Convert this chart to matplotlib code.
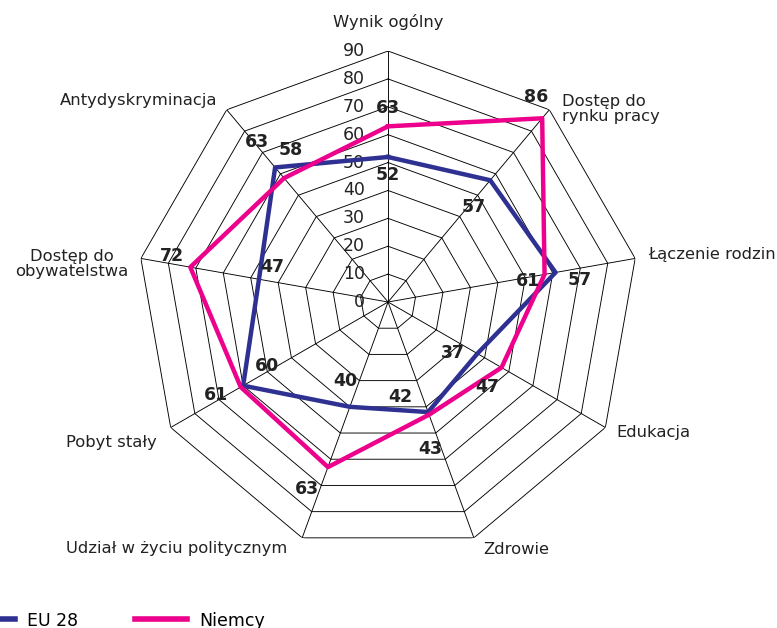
import numpy as np
import matplotlib
matplotlib.use("Agg")
import matplotlib.pyplot as plt
from matplotlib.lines import Line2D

categories = ["Wynik ogólny", "Dostęp do\nrynku pracy", "Łączenie rodzin", "Edukacja",
              "Zdrowie", "Udział w życiu politycznym", "Pobyt stały",
              "Dostęp do\nobywatelstwa", "Antydyskryminacja"]
eu28 = [52, 57, 61, 37, 42, 40, 60, 47, 63]
niemcy = [63, 86, 57, 47, 43, 63, 61, 72, 58]
ring_values = [0, 10, 20, 30, 40, 50, 60, 70, 80, 90]

# label offsets in pixels (dx, dy) for each value label
eu_offsets = [(0, -18), (-17, -27), (-28, -9), (-25, 1), (-28, 15),
              (-5, 26), (24, 20), (13, 12), (-18, 25)]
de_offsets = [(0, 18), (-6, 21), (35, -6), (-14, -19), (1, -34),
              (-21, -22), (-25, -8), (-18, 11), (7, 28)]

blue = "#2e3192"
pink = "#ec008c"
plt.rcParams['font.family'] = ['DejaVu Sans']

n = len(categories)
theta = np.linspace(0, 2 * np.pi, n, endpoint=False)

fig = plt.figure(figsize=(7.77, 6.28), dpi=100)
ax = fig.add_axes([0.1764, 0.1194, 0.646, 0.7994], projection='polar')
ax.set_theta_offset(np.pi / 2)
ax.set_theta_direction(-1)
ax.set_ylim(0, 90)
ax.grid(False)
ax.spines['polar'].set_visible(False)
ax.set_xticks([])
ax.set_yticks([])
ax.patch.set_alpha(0)

# polygon grid and spokes
closed = np.append(theta, theta[0])
for r in ring_values[1:]:
    ax.plot(closed, [r] * (n + 1), color='black', lw=0.65, zorder=1)
for t in theta:
    ax.plot([t, t], [0, 90], color='black', lw=0.65, zorder=1)

# radial tick labels along the top axis
for r in ring_values:
    ax.annotate(str(r), xy=(0, r), xytext=(-23, 0), textcoords='offset pixels',
                ha='right', va='center', fontsize=12.5, color='#222222')

ax.plot(closed, eu28 + eu28[:1], color=blue, lw=3.2, zorder=3)
ax.plot(closed, niemcy + niemcy[:1], color=pink, lw=3.2, zorder=4)

for t, v, off in zip(theta, eu28, eu_offsets):
    ax.annotate(str(v), xy=(t, v), xytext=off, textcoords='offset pixels',
                ha='center', va='center', fontsize=12.5, fontweight='bold', color='#222222', zorder=5)
for t, v, off in zip(theta, niemcy, de_offsets):
    ax.annotate(str(v), xy=(t, v), xytext=off, textcoords='offset pixels',
                ha='center', va='center', fontsize=12.5, fontweight='bold', color='#222222', zorder=5)

# category labels around the chart (pixel anchors)
label_fig = [(388, 22, 'center'), (562, 109, 'left'), (648, 254, 'left'), (616, 432, 'left'),
             (516, 549, 'center'), (177, 548, 'center'), (157, 443, 'right'),
             (72, 264, 'center'), (217, 100, 'right')]
for name, (x, y, ha) in zip(categories, label_fig):
    fig.text(x / 777, 1 - y / 628, name, ha=ha, va='center', fontsize=11.8,
             color='#222222', linespacing=1.0)

handles = [Line2D([], [], color=blue, lw=4), Line2D([], [], color=pink, lw=4)]
fig.legend(handles, ["EU 28", "Niemcy"], loc='lower left', ncol=2, frameon=False,
           bbox_to_anchor=(-41 / 777, -5 / 628), borderpad=0.2, borderaxespad=0,
           handlelength=3.0, handletextpad=0.7, columnspacing=3.3, fontsize=12.5)

fig.savefig("out.png", dpi=100)
